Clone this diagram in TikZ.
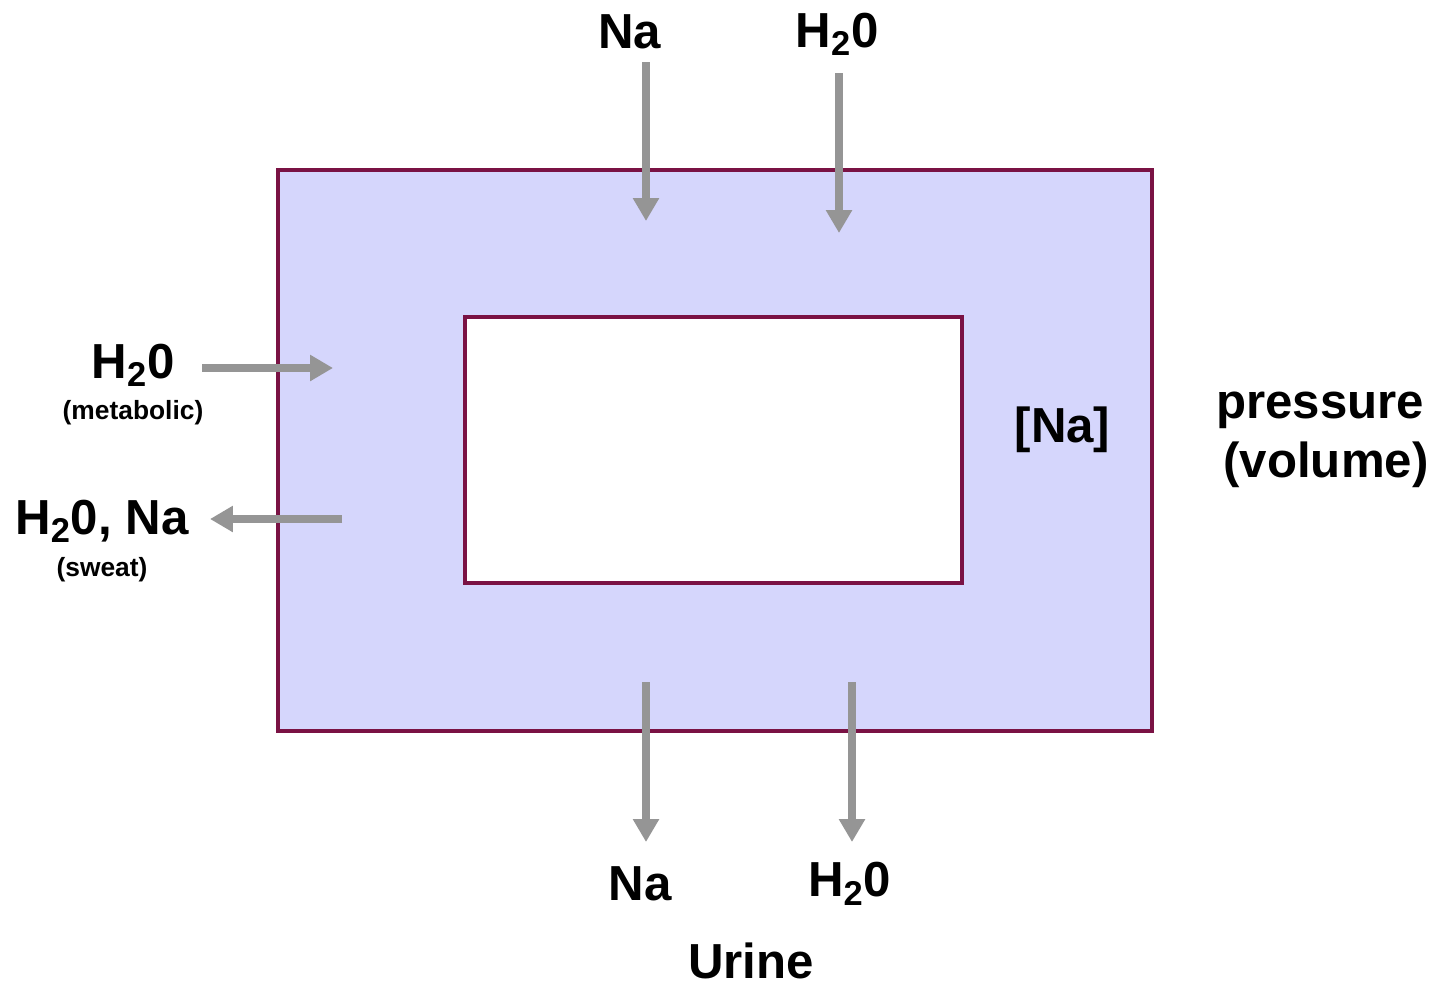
\documentclass[tikz,border=0pt]{standalone}
\usepackage{fontspec}
\setmainfont{Liberation Sans}
\usepackage{tikz}
\usetikzlibrary{arrows.meta,positioning}
\definecolor{ecfline}{HTML}{7A1244}
\definecolor{ecffill}{HTML}{D5D6FC}
\definecolor{flowgray}{HTML}{959595}

\begin{document}
\begin{tikzpicture}[x=0.02cm, y=-0.02cm,
    box/.style={draw=ecfline, line width=2.1pt, inner sep=0pt},
    flow/.style={draw=flowgray, line width=0.16cm, -{Triangle[width=0.5cm, length=0.46cm]}},
    lbl/.style={anchor=base, inner sep=0pt, font=\bfseries\fontsize{28}{30}\selectfont},
    small/.style={anchor=base, inner sep=0pt, font=\bfseries\fontsize{15}{17}\selectfont}]
    \useasboundingbox (0,0) rectangle (1440,987);
    % compartments
    \node[box, fill=ecffill, minimum width=17.48cm, minimum height=11.22cm] (outer) at (715,450.5) {};
    \node[box, fill=white, minimum width=9.94cm, minimum height=5.32cm] (inner) at (713.5,450) {};
    % labels
    \node[lbl] (naIn) at (629.5,48) {Na};
    \node[lbl] (wIn) at (837,47) {H\textsubscript{2}0};
    \node[lbl] (wMet) at (133,378) {H\textsubscript{2}0};
    \node[small] (met) at (133,419) {(metabolic)};
    \node[lbl] (sweat) at (102,534) {H\textsubscript{2}0, Na};
    \node[small] (swt) at (102,576) {(sweat)};
    \node[lbl] (naOut) at (640,900) {Na};
    \node[lbl] (wOut) at (849.5,896) {H\textsubscript{2}0};
    \node[lbl] (urine) at (751,978) {Urine};
    \node[lbl] (conc) at (1062.5,442) {[Na]};
    \node[lbl] (press) at (1320,418) {pressure};
    \node[lbl] (vol) at (1326,477) {(volume)};
    % arrow ends
    \coordinate (a1) at (646,62);   \coordinate (b1) at (646,221);
    \coordinate (a2) at (839,73);   \coordinate (b2) at (839,233);
    \coordinate (a3) at (202,368);  \coordinate (b3) at (333,368);
    \coordinate (a4) at (342,519);  \coordinate (b4) at (210,519);
    \coordinate (a5) at (646,682);  \coordinate (b5) at (646,842);
    \coordinate (a6) at (852,682);  \coordinate (b6) at (852,842);
    \foreach \i in {1,...,6}
        \draw[flow] (a\i) -- (b\i);
\end{tikzpicture}
\end{document}
